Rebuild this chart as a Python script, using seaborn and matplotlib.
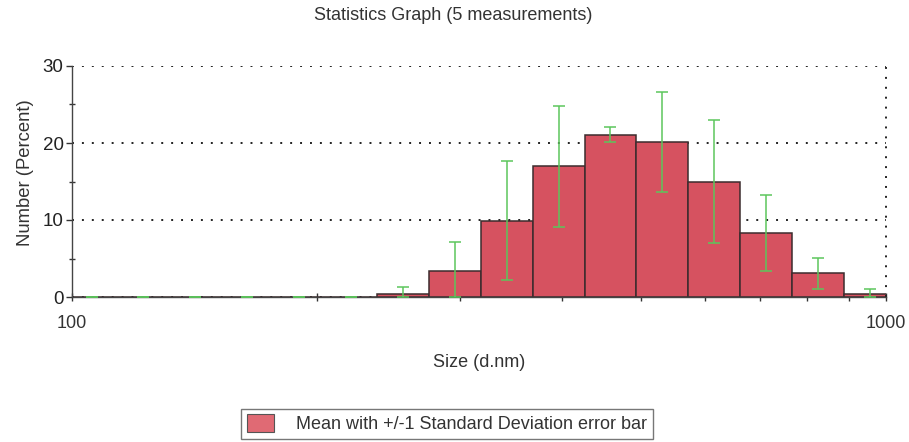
import numpy as np
import pandas as pd
import matplotlib
matplotlib.use("Agg")
import matplotlib.pyplot as plt
import seaborn as sns
from matplotlib.ticker import FixedLocator, NullFormatter, FixedFormatter
from matplotlib.patches import Patch

# ---- data ----
size_nm = [105.7, 122.4, 141.8, 164.2, 190.1, 220.2, 255.0, 295.3, 342.0,
           396.1, 458.7, 531.2, 615.1, 712.4, 825.0, 955.4]
mean_pct = [0.0, 0.0, 0.0, 0.0, 0.0, 0.0, 0.4, 3.4, 9.9,
            17.0, 21.1, 20.1, 15.0, 8.3, 3.1, 0.45]
sd_pct = [0.0, 0.0, 0.0, 0.0, 0.0, 0.0, 0.95, 3.8, 7.75,
          7.85, 0.95, 6.5, 7.95, 4.9, 2.0, 0.63]
x_tick_labels = ["100", "1000"]
y_ticks = [0, 10, 20, 30]

title = "Statistics Graph (5 measurements)"
x_label = "Size (d.nm)"
y_label = "Number (Percent)"
legend_label = "Mean with +/-1 Standard Deviation error bar"

# ---- styling ----
BAR = "#d65260"
EDGE = "#3c2c2e"
GREEN = "#5cc65c"
TXT = "#333333"
DOTS = (0, (1, 4.1))

sns.set_theme(style="white")
plt.rcParams["font.family"] = ["Liberation Sans", "DejaVu Sans"]

df = pd.DataFrame({"size": size_nm, "mean": mean_pct, "sd": sd_pct})
c = np.array(size_nm)
ratio = c[1] / c[0]
edges = np.concatenate([c / np.sqrt(ratio), [c[-1] * np.sqrt(ratio)]])
log_edges = [float(e) for e in np.log10(edges)]  # histplot bins live in log10 space

fig = plt.figure(figsize=(9.09, 4.42), dpi=100)
ax = fig.add_axes([72 / 909, 1 - 297 / 442, (886 - 72) / 909, (297 - 66) / 442])

sns.histplot(data=df, x="size", weights="mean", bins=log_edges,
             log_scale=True, color=BAR, edgecolor=EDGE, linewidth=1.1, alpha=1.0,
             ax=ax, legend=False)

lower = np.minimum(df["sd"], df["mean"])
ax.errorbar(df["size"], df["mean"], yerr=[lower, df["sd"]], fmt="none",
            ecolor=GREEN, elinewidth=1.1, capsize=4.5, capthick=1.1, zorder=5)

ax.set_xlim(100, 1000)
ax.set_ylim(0, 30)

# gridlines
ax.set_yticks(y_ticks)
ax.yaxis.grid(True, color="#222222", linestyle=DOTS, linewidth=1.4)
ax.xaxis.grid(False)
ax.axvline(1000, color="#222222", linestyle=DOTS, linewidth=1.4, clip_on=False)

for s in ["top", "right"]:
    ax.spines[s].set_visible(False)
for s in ["left", "bottom"]:
    ax.spines[s].set_color("#444444")
    ax.spines[s].set_linewidth(1.0)

ax.xaxis.set_major_locator(FixedLocator([100, 200, 1000]))
ax.xaxis.set_major_formatter(FixedFormatter([x_tick_labels[0], "", x_tick_labels[1]]))
ax.xaxis.set_minor_locator(FixedLocator([300, 400, 500, 600, 700, 800, 900]))
ax.xaxis.set_minor_formatter(NullFormatter())
ax.tick_params(axis="x", which="major", direction="inout", length=6, width=1,
               color="#333333", pad=10, labelsize=13, labelcolor=TXT, bottom=True)
ax.tick_params(axis="x", which="minor", direction="out", length=3, width=1,
               color="#333333", bottom=True)

ax.yaxis.set_minor_locator(FixedLocator([5, 15, 25]))
ax.tick_params(axis="y", which="major", direction="out", length=4, width=1,
               color="#333333", pad=2, labelsize=13.5, labelcolor="#222222", left=True)
ax.tick_params(axis="y", which="minor", direction="inout", length=5, width=1,
               color="#333333", left=True)

ax.set_xlabel(x_label, fontsize=13, color=TXT, labelpad=16)
ax.set_ylabel(y_label, fontsize=13.3, color=TXT, labelpad=6)
ax.yaxis.set_label_coords(-0.047, 0.54)
fig.text(0.499, 1 - 15 / 442, title, ha="center", va="center", fontsize=13, color=TXT)

leg = fig.legend(handles=[Patch(facecolor="#e06a74", edgecolor="#555555", linewidth=0.8)],
                 labels=[legend_label], loc="upper center",
                 bbox_to_anchor=(447 / 909, 1 - 409 / 442), frameon=True, fontsize=13,
                 handlelength=1.5, handleheight=1.1, borderpad=0.3,
                 handletextpad=1.25, fancybox=False, borderaxespad=0)
leg.get_frame().set_edgecolor("#555555")
leg.get_frame().set_linewidth(1.0)
for t in leg.get_texts():
    t.set_color(TXT)

fig.savefig("out.png", dpi=100, facecolor="white")
